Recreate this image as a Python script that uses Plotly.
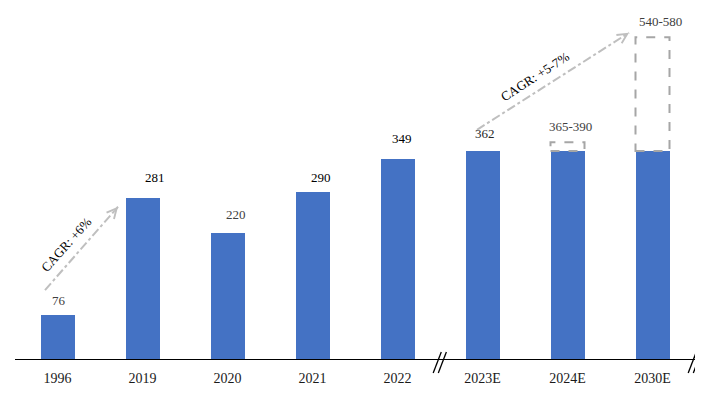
import plotly.graph_objects as go

# ---- data ----
categories = ["1996", "2019", "2020", "2021", "2022", "2023E", "2024E", "2030E"]
base_values = [76, 281, 220, 290, 349, 362, 362, 362]
value_labels = ["76", "281", "220", "290", "349", "362", "365-390", "540-580"]
range_low = [None, None, None, None, None, None, 365, 540]
range_high = [None, None, None, None, None, None, 390, 580]
cagr_texts = ["CAGR: +6%", "CAGR: +5-7%"]

BAR_COLOR = "#4472C4"
GREY = "#BFBFBF"
DASH_GREY = "#A6A6A6"
FONT = "Liberation Serif, Times New Roman, serif"
BAR_HALF = 0.2

fig = go.Figure()
fig.add_trace(go.Bar(
    x=list(range(len(categories))), y=base_values,
    marker=dict(color=BAR_COLOR, line=dict(width=0)),
    width=2 * BAR_HALF, hoverinfo="skip",
))

shapes = []
annotations = []

# value labels
label_xshift = [1, 12, 8, 8, 4, 2, 3, 8]
label_yshift = [5, 11, 9, 5, 11, 8, 6, 6]
label_color = ["#404040", "#000000", "#404040", "#000000", "#000000", "#262626", "#404040", "#404040"]
for i, (v, lab) in enumerate(zip(base_values, value_labels)):
    top = v
    if range_low[i] is not None:
        top = (range_low[i] + range_high[i]) / 2
        shapes.append(dict(type="rect", xref="x", yref="y",
                           x0=i - BAR_HALF, x1=i + BAR_HALF, y0=v, y1=top,
                           line=dict(color=DASH_GREY, width=2, dash="dash"),
                           fillcolor="rgba(0,0,0,0)", layer="above"))
    annotations.append(dict(x=i, y=top, xref="x", yref="y", text=lab,
                            showarrow=False, yanchor="bottom",
                            yshift=label_yshift[i], xshift=label_xshift[i],
                            font=dict(family=FONT, size=13, color=label_color[i])))

# CAGR arrows (start/end in axis coordinates)
arrows = [
    dict(x0=-0.147, y0=120, x1=0.712, y1=265, tx=0.10, ty=200, ang=-48, hx=-6, hy=7),
    dict(x0=4.935, y0=399, x1=6.724, y1=568, tx=5.62, ty=491, ang=-33, hx=-7, hy=4.5),
]
for a, txt in zip(arrows, cagr_texts):
    shapes.append(dict(type="line", xref="x", yref="y",
                       x0=a["x0"], y0=a["y0"], x1=a["x1"], y1=a["y1"],
                       line=dict(color=GREY, width=2, dash="dashdot")))
    annotations.append(dict(x=a["x1"], y=a["y1"], xref="x", yref="y",
                            ax=a["hx"], ay=a["hy"], showarrow=True, text="",
                            arrowhead=5, arrowsize=1.6, arrowwidth=1.2,
                            arrowcolor=GREY))
    annotations.append(dict(x=a["tx"], y=a["ty"], xref="x", yref="y",
                            text=txt, showarrow=False, textangle=a["ang"],
                            font=dict(family=FONT, size=13, color="#000000")))

# axis break marks
for c in (4.5, 7.5):
    for k in (-1, 1):
        shapes.append(dict(type="line", xref="x", yref="paper",
                           x0=c + k * 0.03 - 0.05, y0=-0.040,
                           x1=c + k * 0.03 + 0.045, y1=0.02,
                           line=dict(color="#000000", width=1.3)))

fig.update_layout(
    width=699, height=380,
    margin=dict(l=7, r=12, t=0, b=29),
    paper_bgcolor="white", plot_bgcolor="white",
    showlegend=False, bargap=0,
    shapes=shapes, annotations=annotations,
    xaxis=dict(
        tickmode="array", tickvals=list(range(len(categories))), ticktext=categories,
        range=[-0.5, len(categories) - 0.5],
        showline=True, linecolor="#000000", linewidth=1.3,
        showgrid=False, zeroline=False,
        ticks="outside", ticklen=6, tickcolor="rgba(0,0,0,0)",
        tickfont=dict(family=FONT, size=14, color="#1a1a1a"),
    ),
    yaxis=dict(range=[0, 611], visible=False, showgrid=False, zeroline=False),
)

fig.write_html("out.html")
